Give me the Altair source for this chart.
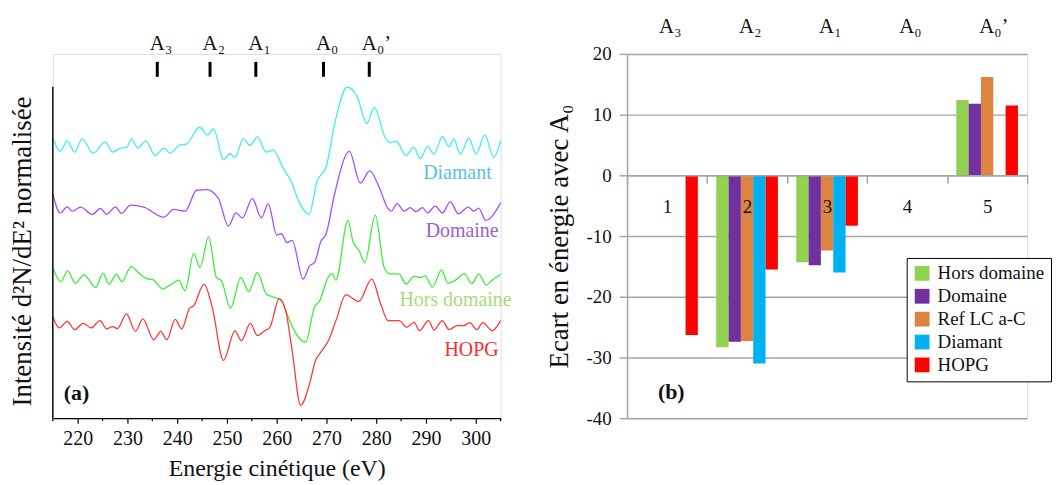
import altair as alt
import pandas as pd

FONT = "Liberation Serif, Times New Roman, serif"

# ---------------- Panel (a): second-derivative spectra (arbitrary units, offset) -------------
diamant_e = [215, 216.5, 217.9, 219.4, 220.9, 223.1, 225.5, 227.1, 228.6, 229.8, 230.8, 232.1, 233.7,
             235.6, 237.3, 238.6, 240.6, 241.8, 244.5, 246.1, 247.3, 249.3, 250.6, 251.6, 253.3, 254.6,
             256.1, 257.9, 259.3, 261.3, 262.9, 264.6, 266.5, 268.1, 269.9, 271.9, 274.1, 276.1, 278.1,
             279.6, 281.8, 283, 284, 286, 287.5, 288.9, 290.3, 291.6, 293.3, 294.6, 295.6, 296.9, 298.6,
             300.1, 301.8, 303.6, 305]
diamant_i = [282, 268, 278.7, 267.3, 280.7, 266.3, 277.3, 267.3, 271.3, 272, 280.7, 271.3, 278.7,
             263.7, 271.3, 266.3, 274.7, 275.3, 292.3, 284.7, 290.7, 259.7, 265.7, 262, 280.7, 274,
             282.7, 267.3, 269.3, 251.3, 238, 216.3, 204.7, 238, 252, 301.3, 332.5, 324, 296,
             312, 282, 277, 278.5, 264, 272.3, 260.7, 273, 265.3, 283, 273, 280.7, 265.3, 281.3,
             265.3, 284.7, 262, 278.7]

domaine_e = [215, 216.5, 217.9, 218.9, 220.6, 222.9, 224.6, 225.8, 227.6, 228.8, 230.6, 233.3, 237.3,
             239.3, 241.6, 243.9, 245.9, 248.3, 250.3, 251.8, 253.1, 255.1, 256.9, 258.3, 260, 260.9,
             262.1, 263.1, 265.3, 266.6, 267.6, 268.9, 269.9, 271.6, 274.6, 276.8, 278.7, 280.6, 282.3,
             283, 284.2, 285.6, 286.8, 288, 289.3, 290.3, 291.9, 293.3, 294.9, 296.5, 298.5, 299.6,
             300.6, 302, 305]
domaine_i = [225.3, 206.3, 212.3, 208, 212, 204.7, 210.7, 204.7, 212.3, 205.7, 214, 212, 202,
             209.7, 208, 229, 229.7, 220.7, 193, 206.3, 201.3, 220.7, 201.3, 215.3, 184, 185.3,
             176.3, 178.7, 139.7, 153, 156.3, 178, 184.7, 224.7, 268, 236.3, 248.5, 232, 211,
             208, 215.5, 208, 211.5, 207.5, 211.5, 206.3, 213, 206.3, 217.3, 205.3, 212, 208,
             211, 198.7, 216.3]

hors_e = [215, 216.6, 218, 219.5, 221.3, 223.6, 225.1, 226.3, 227.8, 228.9, 230.7, 232.6, 233.8,
          235.3, 237.1, 238.6, 240.3, 241.6, 243.3, 244.6, 246.3, 247.9, 248.9, 250.7, 252.8, 254.4,
          256.1, 257.9, 259.2, 260.9, 262.6, 263.9, 265.8, 267.6, 268.6, 270.3, 271.1, 271.9, 274.3,
          275.3, 276.6, 277.7, 279.8, 281.6, 282.6, 284.6, 286, 287.6, 288.9, 289.8, 291.3, 293.1,
          294.4, 296, 297.7, 299.2, 300.6, 302.1, 303.4, 305]
hors_i = [151.3, 137.3, 148, 135.5, 144, 131.3, 145.5, 134.7, 144.7, 137, 152.3, 144.5, 140.5,
          138.7, 129.7, 134, 138.7, 128, 165.3, 151.3, 182.2, 141.3, 138, 110.7, 141.3, 127.3,
          146.5, 124.7, 122, 118, 98, 84.7, 76.3, 112, 117.5, 141.3, 145.3, 138.7, 198.7,
          178, 168, 156.3, 204, 151.3, 145.3, 144.7, 134.7, 142.5, 141.3, 143, 131.7, 148.7,
          135.7, 139, 145.3, 135.3, 144.7, 134, 139, 144.7]

hopg_e = [215, 216.3, 217.9, 219.4, 221.1, 222.7, 224.5, 225.8, 227, 228, 229.8, 231.6, 233.1,
          235.3, 236.7, 237.9, 239.6, 240.9, 242.5, 243.3, 245.4, 247.1, 249.3, 251.6, 252.9, 254.7,
          256.1, 257.7, 258.6, 260.5, 261.8, 263.1, 264.8, 266.6, 267.8, 268.8, 270.4, 271.9, 273.9,
          276.5, 279.1, 280.9, 282.4, 284.6, 286.1, 287.6, 288.7, 290.5, 291.6, 293.3, 294.6, 296.3,
          297.6, 298.8, 300.2, 301.4, 303.3, 305]
hopg_i = [102, 90.7, 97.3, 89, 95.3, 90.7, 98, 89.7, 92, 90, 104.7, 87.3, 99.7,
          78.8, 87.3, 78.8, 99.2, 89.7, 110.5, 113, 134.7, 110, 58, 87.7, 78, 95.3,
          83, 88.3, 91, 120.2, 108, 68, 13, 34.5, 58, 65.8, 78, 98, 123.8,
          117.3, 139.7, 114.7, 98, 98, 91.3, 96.3, 88, 98, 88.7, 98, 89, 93,
          93, 96, 89, 96, 88, 98]

samples = ["Diamant", "Domaine", "Hors domaine", "HOPG"]
line_colors = ["#3deef2", "#a64dff", "#3aee3a", "#ff3838"]
label_colors = ["#55c2ee", "#9b62d4", "#a8dc7a", "#ff2a2a"]

major_ticks = [220, 230, 240, 250, 260, 270, 280, 290, 300]
minor_ticks = [215, 225, 235, 245, 255, 265, 275, 285, 295, 305]

peak_names = ["A₃", "A₂", "A₁", "A₀", "A₀’"]
peak_energies = [236.0, 246.6, 255.8, 269.4, 278.6]

# ---------------- Panel (b): energy shift relative to A0 ----------------
categories = ["1", "2", "3", "4", "5"]
series = ["Hors domaine", "Domaine", "Ref LC a-C", "Diamant", "HOPG"]
bar_colors = ["#92d050", "#7030a0", "#dd8440", "#00b0f0", "#ff0000"]
hors_vals = [None, -28.3, -14.3, None, 12.4]
domaine_vals = [None, -27.4, -14.8, None, 11.8]
ref_vals = [None, -27.3, -12.4, None, 16.2]
diamant_vals = [None, -31.0, -16.0, None, None]
hopg_vals = [-26.3, -15.5, -8.3, None, 11.5]
y_ticks_b = [-40, -30, -20, -10, 0, 10, 20]

# ---------------- tables ----------------
spec_rows = []
for name, es, vs in [("Diamant", diamant_e, diamant_i), ("Domaine", domaine_e, domaine_i),
                     ("Hors domaine", hors_e, hors_i), ("HOPG", hopg_e, hopg_i)]:
    for e, v in zip(es, vs):
        spec_rows.append({"energy": e, "intensity": v, "sample": name})
spec_df = pd.DataFrame(spec_rows)

peaks_df = pd.DataFrame({"energy": peak_energies, "label": peak_names})
minor_df = pd.DataFrame({"energy": minor_ticks})

curve_labels_df = pd.DataFrame({
    "energy": [303.2, 304.6, 307.2, 304.6],
    "intensity": [246, 188, 119, 68],
    "sample": samples,
})

bar_rows = []
for s, vals in zip(series, [hors_vals, domaine_vals, ref_vals, diamant_vals, hopg_vals]):
    for c, v in zip(categories, vals):
        if v is not None:
            bar_rows.append({"cat": c, "series": s, "value": v})
bars_df = pd.DataFrame(bar_rows)
top_df = pd.DataFrame({"cat": categories, "label": peak_names})

# ---------------- panel (a) ----------------
W_A, H = 450, 366
xa = alt.X("energy:Q", scale=alt.Scale(domain=[215, 305], nice=False, zero=False),
           axis=alt.Axis(values=major_ticks, labelOverlap=False, tickSize=5,
                         title="Energie cinétique (eV)", grid=False,
                         domainColor="black", tickColor="black", domainWidth=1.4, tickWidth=1.2,
                         labelFontSize=20, labelColor="#111", labelPadding=5, labelFont=FONT,
                         titleFontSize=24, titleFontWeight="normal", titleColor="#111",
                         titlePadding=9, titleFont=FONT))
ya = alt.Y("intensity:Q", scale=alt.Scale(domain=[0, H], nice=False, zero=False),
           axis=alt.Axis(title="Intensité d²N/dE² normalisée", labels=False, ticks=False,
                         domain=False, grid=False, titleFontSize=27, titleFontWeight="normal",
                         titleColor="#111", titleFont=FONT, titleX=-30, titleY=198,
                         titleAngle=-90, titleAlign="center", titleBaseline="middle"))

lines = alt.Chart(spec_df).mark_line(interpolate="monotone", strokeWidth=1.3).encode(
    x=xa, y=ya,
    color=alt.Color("sample:N", scale=alt.Scale(domain=samples, range=line_colors), legend=None),
    detail="sample:N",
    order=alt.Order("energy:Q"),
)

minor = alt.Chart(minor_df).mark_rule(color="black", strokeWidth=1.2).encode(
    x=alt.X("energy:Q"), y=alt.value(H), y2=alt.value(H + 3))

yaxis_line = alt.Chart(pd.DataFrame({"k": [0]})).mark_rule(color="black", strokeWidth=1.4).encode(
    x=alt.value(0), y=alt.value(33), y2=alt.value(H))

peak_ticks = alt.Chart(peaks_df).mark_rule(color="black", strokeWidth=3).encode(
    x=alt.X("energy:Q"), y=alt.value(23), y2=alt.value(8))

peak_text = alt.Chart(peaks_df).mark_text(font=FONT, fontSize=21, align="left", baseline="middle",
                                          dx=-7.5, color="#111").encode(
    x=alt.X("energy:Q"), y=alt.value(-10), text="label:N")

curve_text = alt.Chart(curve_labels_df).mark_text(font=FONT, fontSize=20, align="right",
                                                  baseline="middle").encode(
    x=alt.X("energy:Q"), y=alt.Y("intensity:Q"), text="sample:N",
    color=alt.Color("sample:N", scale=alt.Scale(domain=samples, range=label_colors), legend=None))

a_label = alt.Chart(pd.DataFrame({"t": ["(a)"]})).mark_text(
    font=FONT, fontSize=22, fontWeight="bold", align="left", baseline="middle", color="#111").encode(
    x=alt.value(11), y=alt.value(341), text="t:N")

panel_a = alt.layer(lines, minor, yaxis_line, peak_ticks, peak_text, curve_text, a_label).properties(
    width=W_A, height=H).resolve_scale(color="independent")

# ---------------- panel (b) ----------------
W_B = 402
GRAY = "#a6a6a6"
bars = alt.Chart(bars_df).mark_bar().encode(
    x=alt.X("cat:N", scale=alt.Scale(domain=categories, paddingInner=0, paddingOuter=0),
            axis=alt.Axis(title=None, orient="bottom", offset=-244, tickBand="extent", labelAngle=0,
                          domainColor=GRAY, tickColor=GRAY, domainWidth=1.5, tickWidth=1.5,
                          tickSize=8, labelPadding=14, labelFontSize=19, labelFont=FONT,
                          labelColor="#111", zindex=1)),
    xOffset=alt.XOffset("series:N", scale=alt.Scale(domain=series, paddingInner=0, paddingOuter=0.745)),
    y=alt.Y("value:Q", scale=alt.Scale(domain=[-40, 20], nice=False),
            axis=alt.Axis(values=y_ticks_b, labelExpr="'' + datum.value",
                          title="Ecart en énergie avec A₀", grid=True, gridColor=GRAY, gridWidth=1.5,
                          domainColor=GRAY, tickColor=GRAY, domainWidth=1.5, tickWidth=1.5,
                          tickSize=8, labelPadding=8, labelFontSize=19, labelFont=FONT,
                          labelColor="#111", titleFontSize=27, titleFontWeight="normal",
                          titleFont=FONT, titleColor="#111", titleX=-68, titleY=183,
                          titleAngle=-90, titleAlign="center", titleBaseline="middle")),
    color=alt.Color("series:N", scale=alt.Scale(domain=series, range=bar_colors),
                    legend=alt.Legend(title=None, orient="none", legendX=281, legendY=205,
                                      fillColor="white", strokeColor="black", padding=6,
                                      symbolType="square", symbolSize=220, symbolStrokeWidth=0,
                                      labelFontSize=19, labelFont=FONT, labelColor="#111",
                                      labelOffset=6, rowPadding=3)),
)

top_text = alt.Chart(top_df).mark_text(font=FONT, fontSize=21, align="left", baseline="middle",
                                       dx=-8, color="#111").encode(
    x=alt.X("cat:N"), y=alt.value(-27), text="label:N")

b_label = alt.Chart(pd.DataFrame({"t": ["(b)"]})).mark_text(
    font=FONT, fontSize=22, fontWeight="bold", align="left", baseline="middle", color="#111").encode(
    x=alt.value(31), y=alt.value(340), text="t:N")

panel_b = alt.layer(bars, top_text, b_label).properties(width=W_B, height=H)

chart = alt.hconcat(panel_a, panel_b, spacing=127, bounds="flush").resolve_scale(
    color="independent").properties(
    padding={"left": 0, "top": 6, "right": 0, "bottom": 0}
).configure_view(strokeWidth=0).configure(font=FONT, background="white")

chart.save("out.html", embed_options={"renderer": "svg", "actions": False})
